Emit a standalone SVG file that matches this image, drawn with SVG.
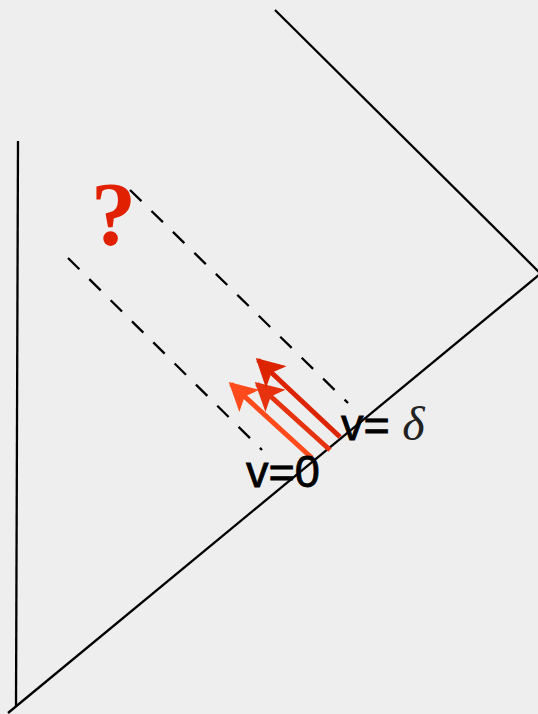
<svg xmlns="http://www.w3.org/2000/svg" width="538" height="714" viewBox="0 0 538 714">
<style>
.ln{stroke:#000;stroke-width:2.3;fill:none}
.dash{stroke:#000;stroke-width:2.3;fill:none;stroke-dasharray:16 14}
.lbl{font-family:"Liberation Sans","DejaVu Sans",sans-serif;font-size:45px;fill:#000;stroke:#000;stroke-width:0.8}
</style>
<defs>
<marker id="h1" markerWidth="6" markerHeight="6" refX="5" refY="3" orient="auto" markerUnits="strokeWidth"><path d="M0,0 L5.6,3 L0,6 L1.3,3 Z" fill="#FF4A1C"/></marker>
<marker id="h2" markerWidth="6" markerHeight="6" refX="5" refY="3" orient="auto" markerUnits="strokeWidth"><path d="M0,0 L5.6,3 L0,6 L1.3,3 Z" fill="#E6320E"/></marker>
<marker id="h3" markerWidth="6" markerHeight="6" refX="5" refY="3" orient="auto" markerUnits="strokeWidth"><path d="M0,0 L5.6,3 L0,6 L1.3,3 Z" fill="#DC2400"/></marker>
</defs>
<rect width="538" height="714" fill="#eeeeee"/>
<g id="connectors">
<line class="ln" x1="18" y1="141" x2="16" y2="706"/>
<line class="ln" x1="8" y1="713" x2="540" y2="274"/>
<line class="ln" x1="275" y1="10" x2="540" y2="273"/>
<line class="dash" x1="130" y1="190" x2="348" y2="403"/>
<line class="dash" x1="68" y1="258" x2="262" y2="450"/>
<line stroke="#FF4A1C" stroke-width="5" x1="312" y1="458" x2="231" y2="384" marker-end="url(#h1)"/>
<line stroke="#E6320E" stroke-width="5" x1="330" y1="450" x2="257" y2="384" marker-end="url(#h2)"/>
<line stroke="#DC2400" stroke-width="5" x1="340" y1="437" x2="258" y2="360" marker-end="url(#h3)"/>
</g>
<g id="q">
<text x="91" y="245" font-family="Liberation Serif,serif" font-weight="bold" font-size="90" fill="#E02000">?</text>
</g>
<g id="v0">
<text class="lbl" x="246" y="487">v=0</text>
</g>
<g id="vd">
<text class="lbl" x="341" y="440">v= <tspan font-family="Liberation Serif,serif" font-style="italic" fill="#222" stroke="none" font-size="48">δ</tspan></text>
</g>
</svg>
